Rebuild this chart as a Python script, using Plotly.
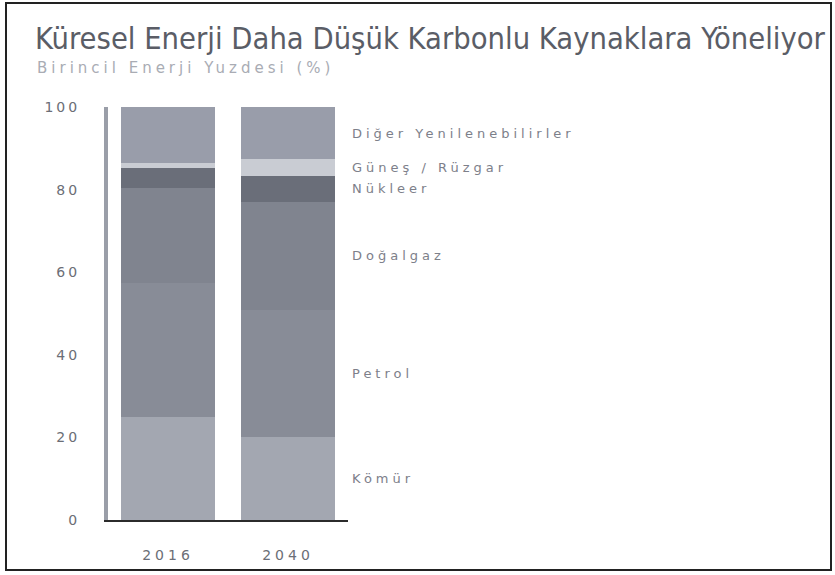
import plotly.graph_objects as go
import numpy as np

years = ['2016', '2040']
sources = ['Kömür', 'Petrol', 'Doğalgaz', 'Nükleer', 'Güneş / Rüzgar', 'Diğer Yenilenebilirler']
komur = [25.0, 20.0]
petrol = [32.4, 30.9]
dogalgaz = [23.0, 26.2]
nukleer = [4.8, 6.3]
gunes = [1.2, 3.9]
diger = [13.6, 12.7]
y_ticks = [0, 20, 40, 60, 80, 100]
colors = ['#a3a7b1', '#888c97', '#80848f', '#6a6e79', '#c9ccd3', '#999daa']

values = [komur, petrol, dogalgaz, nukleer, gunes, diger]

W, H = 835, 575
L, T, B = 108, 107, 55
pw, ph = W - L, H - T - B


def spaced(s, px):
    return '<span style="letter-spacing:%spx">%s</span>' % (px, s)


fig = go.Figure()
for name, vals, col in zip(sources, values, colors):
    fig.add_trace(go.Bar(
        name=name, x=years, y=vals,
        marker=dict(color=col, line=dict(width=0)),
        showlegend=False
    ))

# labels next to the 2040 bar (category index 1), at segment midpoints
tops = np.cumsum([v[1] for v in values])
mids = tops - np.array([v[1] for v in values]) / 2
annotations = []
for name, m in zip(sources, mids):
    annotations.append(dict(
        x=1, y=float(m), xref='x', yref='y', text=spaced(name, 4), showarrow=False,
        xanchor='left', yanchor='middle', xshift=62,
        font=dict(family='DejaVu Sans', size=13, color='#7d808a')
    ))

# subtitle
annotations.append(dict(
    x=(35 - L) / pw, y=(H - B - 68) / ph, xref='paper', yref='paper',
    text=spaced('Birincil Enerji Yuzdesi (%)', 4), showarrow=False,
    xanchor='left', yanchor='middle',
    font=dict(family='DejaVu Sans', size=15, color='#a9acb4')
))

fig.update_layout(
    width=W, height=H,
    margin=dict(l=L, r=0, t=T, b=B),
    barmode='stack', bargap=0.21,
    plot_bgcolor='white', paper_bgcolor='white',
    title=dict(
        text='Küresel Enerji Daha Düşük Karbonlu Kaynaklara Yöneliyor',
        xref='container', yref='container', x=35 / W, y=1 - 38 / H,
        xanchor='left', yanchor='middle',
        font=dict(family='DejaVu Sans Condensed, Liberation Sans Narrow', size=30.6, color='#5a5d66')
    ),
    xaxis=dict(
        type='category', range=[-0.5, 1.5], domain=[0, 240 / pw],
        showgrid=False, showline=True, automargin=False,
        linecolor='#2b2b2b', linewidth=2, ticks='', ticklabelstandoff=21,
        tickvals=years, ticktext=[spaced(y, 4) for y in years], tickangle=0,
        tickfont=dict(family='DejaVu Sans', size=14, color='#6b6e76')
    ),
    yaxis=dict(
        range=[0, 100], tickvals=y_ticks, ticktext=[spaced(t, 3) for t in y_ticks],
        showgrid=False, zeroline=False, showline=True, automargin=False,
        linecolor='#9a9ea8', linewidth=4, ticks='', ticklabelstandoff=21,
        tickfont=dict(family='DejaVu Sans', size=14, color='#6b6e76')
    ),
    annotations=annotations,
    shapes=[dict(
        type='rect', xref='paper', yref='paper',
        x0=(6 - L) / pw, x1=(831 - L) / pw,
        y0=(H - B - 570) / ph, y1=(H - B - 3) / ph,
        line=dict(color='#222222', width=2), fillcolor='rgba(0,0,0,0)'
    )]
)

fig.write_html('out.html', config={'displayModeBar': False},
               post_script="document.body.style.margin='0';")
